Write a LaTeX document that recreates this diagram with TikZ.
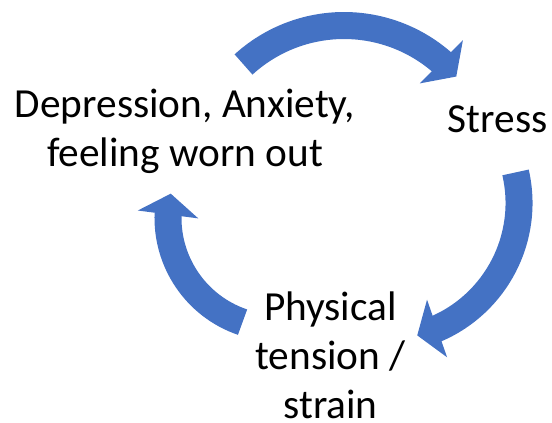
\documentclass[tikz,border=0pt]{standalone}
\usepackage{fontspec}
\setmainfont{Carlito}
\usetikzlibrary{arrows.meta,bending}
\definecolor{cycleblue}{HTML}{4472C4}

\begin{document}
\begin{tikzpicture}[
    x=0.75pt, y=-0.75pt,
    cycletext/.style={align=center, font=\fontsize{31}{36.75}\selectfont, inner sep=0pt, anchor=base},
    cyclearrow/.style={draw=cycleblue, line width=20.25pt, -{Triangle[width=45pt, length=15.75pt]}}
]
    \useasboundingbox (0,0) rectangle (552,422);

    \node[cycletext] (depr) at (185,166) {Depression, Anxiety,\\feeling worn out};
    \node[cycletext] (stress) at (497.5,132) {Stress};
    \node[cycletext] (phys) at (330.5,418) {Physical\\tension /\\strain};

    % centres of the three arcs
    \coordinate (topc) at (344,174.5);
    \coordinate (rightc) at (382,203);
    \coordinate (leftc) at (278,218);

    \draw[cyclearrow] ([shift={(-132.4:149)}]topc) arc[start angle=-132.4, end angle=-41.1, radius=149];
    \draw[cyclearrow] ([shift={(-12.9:137)}]rightc) arc[start angle=-12.9, end angle=75.1, radius=137];
    \draw[cyclearrow] ([shift={(108.8:110)}]leftc) arc[start angle=108.8, end angle=192.8, radius=110];
\end{tikzpicture}
\end{document}
